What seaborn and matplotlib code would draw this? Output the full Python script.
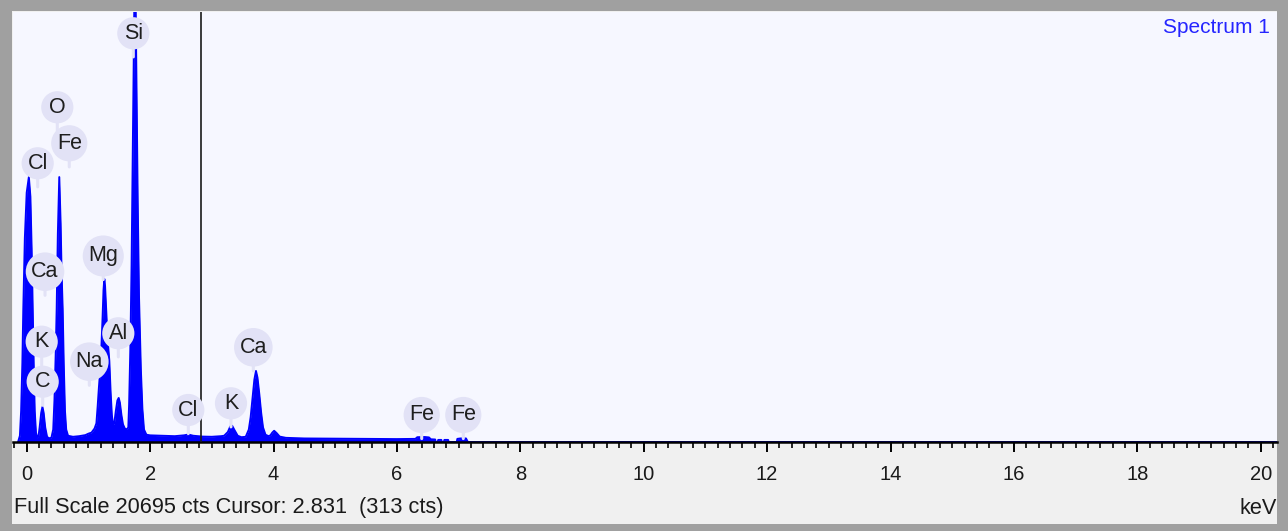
import numpy as np
import pandas as pd
import matplotlib.pyplot as plt
import matplotlib.ticker as mticker
from matplotlib.patches import Rectangle
from matplotlib.transforms import offset_copy
import seaborn as sns

# spectrum outline: energy (keV) and counts
energy_kev = [-0.14, -0.11, -0.09, -0.07, -0.055, -0.03, 0.00, 0.035, 0.06, 0.08, 0.097, 0.115, 0.13, 0.15, 0.17,
              0.19, 0.21, 0.235, 0.255, 0.275, 0.30, 0.33, 0.36,
              0.40, 0.43, 0.45, 0.47, 0.486, 0.505, 0.528, 0.55, 0.565, 0.583, 0.60, 0.62, 0.64, 0.67,
              0.75, 0.85, 0.95, 1.00, 1.05, 1.10,
              1.13, 1.15, 1.17, 1.19, 1.21, 1.23, 1.245, 1.258, 1.27, 1.29, 1.31, 1.339, 1.36, 1.38, 1.40,
              1.42, 1.445, 1.47, 1.491, 1.51, 1.535, 1.56, 1.59,
              1.62, 1.647, 1.66, 1.68, 1.70, 1.711, 1.73, 1.755, 1.78, 1.799, 1.82, 1.85, 1.875, 1.901, 1.94,
              2.00, 2.20, 2.40, 2.55, 2.62, 2.70, 2.85, 3.00, 3.15,
              3.20, 3.26, 3.30, 3.33, 3.37, 3.42, 3.48,
              3.55, 3.60, 3.63, 3.66, 3.69, 3.716, 3.74, 3.77, 3.80, 3.83, 3.87, 3.92,
              3.95, 3.98, 4.01, 4.05, 4.10, 4.20,
              4.50, 5.00, 5.50, 6.00, 6.30, 6.33, 6.45, 6.52, 6.55, 6.62,
              6.63, 6.66, 6.67, 6.72, 6.73, 6.76, 6.77, 6.83, 6.84, 6.97, 6.98, 7.03, 7.12, 7.15, 20.3]
counts = [0, 300, 1500, 3800, 6400, 9800, 12000, 12750, 11800, 9300, 6400, 3500, 1500, 450, 200,
          250, 700, 1400, 1690, 1400, 700, 250, 180,
          200, 600, 2000, 4200, 6400, 10000, 12750, 10500, 8200, 6400, 3800, 1500, 600, 300,
          250, 280, 330, 400, 450, 650,
          900, 1700, 2600, 3400, 4500, 6000, 7300, 7850, 7500, 6200, 5000, 3900, 2400, 1300, 800,
          900, 1500, 2000, 2120, 1900, 1300, 850, 650,
          600, 700, 1800, 4500, 8500, 11600, 17000, 24000, 17000, 11600, 7000, 3500, 1600, 600, 350,
          320, 300, 280, 320, 360, 300, 260, 250, 280,
          300, 480, 750, 780, 560, 300, 230,
          250, 600, 1200, 2100, 3000, 3420, 3100, 2300, 1400, 700, 350, 280,
          320, 450, 540, 430, 260, 200,
          170, 160, 150, 140, 150, 230, 240, 220, 130, 120,
          0, 0, 100, 100, 0, 0, 100, 100, 0, 0, 150, 170, 170, 0, 0]

# element markers: name, energy (keV), marker height (counts)
marker_elements = ["Si", "O", "Fe", "Cl", "Ca", "Mg", "K", "Al", "Na", "C", "Cl", "K", "Ca", "Fe", "Fe"]
marker_kev = [1.728, 0.496, 0.690, 0.178, 0.297, 1.241, 0.243, 1.485, 1.015, 0.259, 2.619, 3.311, 3.673, 6.402, 7.076]
marker_height = [19670, 16110, 14376, 13414, 8196, 8952, 4827, 5232, 3865, 2902, 1540, 1863, 4558, 1300, 1300]

full_scale = 20695
cursor_kev = 2.831
cursor_cts = 313
x_ticks = list(range(0, 21, 2))

sns.set_style("white")
plt.rcParams['font.family'] = ['Liberation Sans', 'DejaVu Sans']

W, H = 1288, 531
fig = plt.figure(figsize=(W / 100, H / 100), dpi=100)
fig.patch.set_facecolor('#A0A0A0')
fig.add_artist(Rectangle((12 / W, (H - 524) / H), (1277 - 12) / W, (524 - 11) / H,
                         transform=fig.transFigure, facecolor='#F0F0F0', edgecolor='none', zorder=0))

ax = fig.add_axes([13 / W, (H - 442) / H, (1277 - 13) / W, (442 - 12) / H])
ax.set_facecolor('#F6F7FF')

df = pd.DataFrame({'keV': energy_kev, 'counts': counts})
ax.fill_between(df['keV'], df['counts'], color='#0000FF', lw=0, zorder=2)
sns.lineplot(data=df, x='keV', y='counts', ax=ax, color='#0000FF', lw=1.4,
             estimator=None, sort=False, zorder=2)

ax.set_xlim(-0.222, 20.264)
ax.set_ylim(0, full_scale)
ax.set_xlabel('')
ax.set_ylabel('')
ax.set_yticks([])
for side in ['left', 'top', 'right']:
    ax.spines[side].set_visible(False)
ax.spines['bottom'].set_color('black')
ax.spines['bottom'].set_linewidth(1.8)

ax.set_xticks(x_ticks)
ax.xaxis.set_minor_locator(mticker.MultipleLocator(0.2))
ax.tick_params(axis='x', which='both', bottom=True, top=False, direction='out', color='black')
ax.tick_params(axis='x', which='major', length=7.5, width=1.4, pad=9, labelsize=14.5, labelcolor='#1a1a1a')
ax.tick_params(axis='x', which='minor', length=4.5, width=1.2)

# cursor line
ax.axvline(cursor_kev, color='#1a1a1a', lw=1.2, zorder=3)

# element markers with halo and stem
halo = '#E2E2F6'
stem_down = offset_copy(ax.transData, fig=fig, x=0, y=-17, units='points')
for el, xk, yc in zip(marker_elements, marker_kev, marker_height):
    ax.annotate(el, xy=(xk, yc), xycoords=stem_down, xytext=(xk, yc), textcoords='data',
                ha='center', va='center', fontsize=15.5, color='#1e1e1e', zorder=5,
                bbox=dict(boxstyle='circle,pad=0.26', fc=halo, ec='none'),
                arrowprops=dict(arrowstyle='-', color=halo, lw=2.2, shrinkA=0, shrinkB=0))

ax.text(0.9945, 0.963, 'Spectrum 1', transform=ax.transAxes, ha='right', va='center',
        fontsize=15, color='#2525FF')

fig.text(14 / W, (H - 507) / H, f'Full Scale {full_scale} cts Cursor: {cursor_kev}  ({cursor_cts} cts)',
         ha='left', va='center', fontsize=15.7, color='#1a1a1a')
fig.text(1277 / W, (H - 508) / H, 'keV', ha='right', va='center', fontsize=15.7, color='#1a1a1a')

fig.savefig('out.png', dpi=100)
